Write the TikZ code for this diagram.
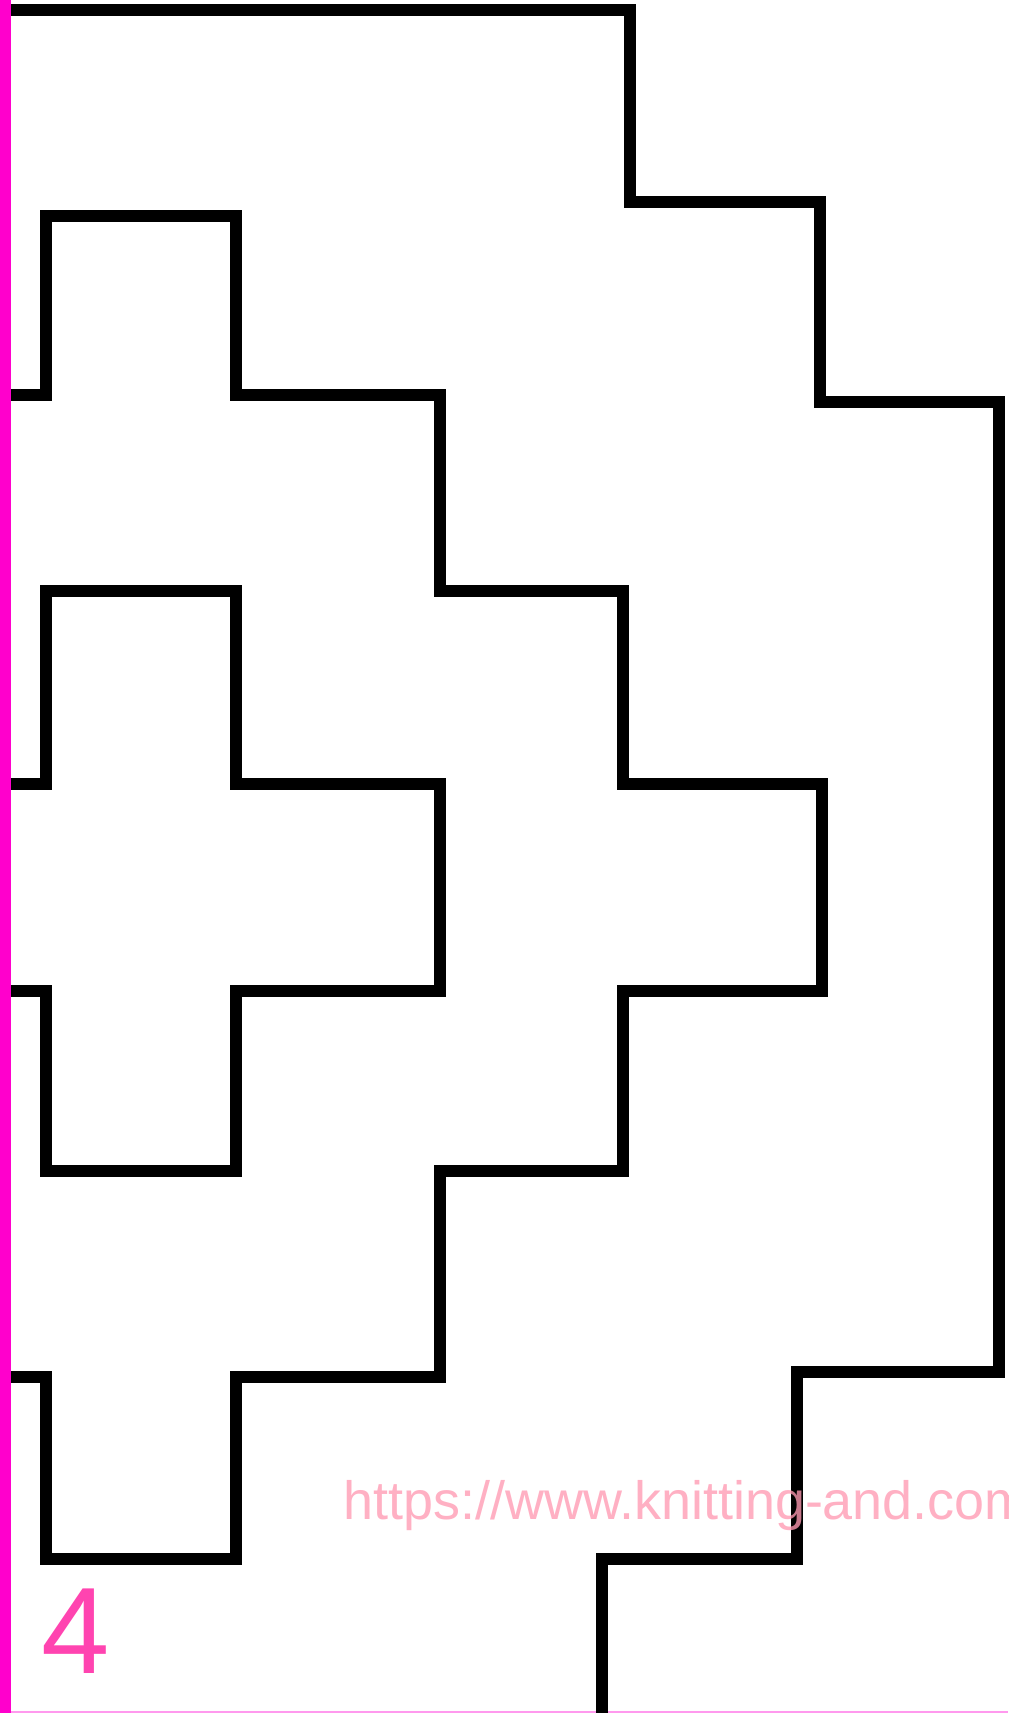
\documentclass[tikz,border=0pt]{standalone}
\usepackage{fontspec}
\setmainfont{Liberation Sans}
\definecolor{edgemag}{HTML}{FF00CC}
\definecolor{rimpink}{HTML}{FF99EE}
\definecolor{numpink}{HTML}{FF44B0}
\definecolor{markpink}{HTML}{FF9AB3}

\begin{document}
\begin{tikzpicture}[
  x=0.02cm, y=-0.02cm,
  wall/.style={black, line width=0.24cm, line join=miter, line cap=butt},
  numlbl/.style={numpink, font=\fontsize{70}{70}\selectfont, inner sep=0pt, anchor=base west},
  marklbl/.style={markpink, text opacity=0.78, font=\fontsize{30.7}{31}\selectfont, inner sep=0pt, anchor=base west},
]

% ══════════════════════════════════════════════════════
% Page frame
% ══════════════════════════════════════════════════════
\useasboundingbox (0,0) rectangle (1008,1713);
\clip (0,0) rectangle (1008,1713);
\fill[white] (0,0) rectangle (1008,1713);
\draw[rimpink, line width=0.04cm] (11,1712) -- (1008,1712);

% ══════════════════════════════════════════════════════
% Outer stepped edge
% ══════════════════════════════════════════════════════
\draw[wall] (11,10) -- (630,10) -- (630,202) -- (820,202)
  -- (820,402) -- (999,402) -- (999,1372) -- (797,1372)
  -- (797,1559) -- (602,1559) -- (602,1713);

% ══════════════════════════════════════════════════════
% Large stepped cross
% ══════════════════════════════════════════════════════
\draw[wall] (11,395) -- (46,395) -- (46,216) -- (236,216)
  -- (236,395) -- (440,395) -- (440,591) -- (623,591)
  -- (623,784) -- (822,784) -- (822,991) -- (623,991)
  -- (623,1171) -- (440,1171) -- (440,1377) -- (236,1377)
  -- (236,1559) -- (46,1559) -- (46,1377) -- (11,1377);

% ══════════════════════════════════════════════════════
% Small inner cross
% ══════════════════════════════════════════════════════
\draw[wall] (11,784) -- (46,784) -- (46,591) -- (236,591)
  -- (236,784) -- (440,784) -- (440,991) -- (236,991)
  -- (236,1171) -- (46,1171) -- (46,991) -- (11,991);

% ══════════════════════════════════════════════════════
% Watermark (laid over the lines), edge stripe, page number
% ══════════════════════════════════════════════════════
\node[marklbl] (mark) at (343,1519) {https://www.knitting-and.com};
\fill[edgemag] (0,0) rectangle (11,1713);
\node[numlbl] (num) at (41,1673) {4};

\end{tikzpicture}
\end{document}
